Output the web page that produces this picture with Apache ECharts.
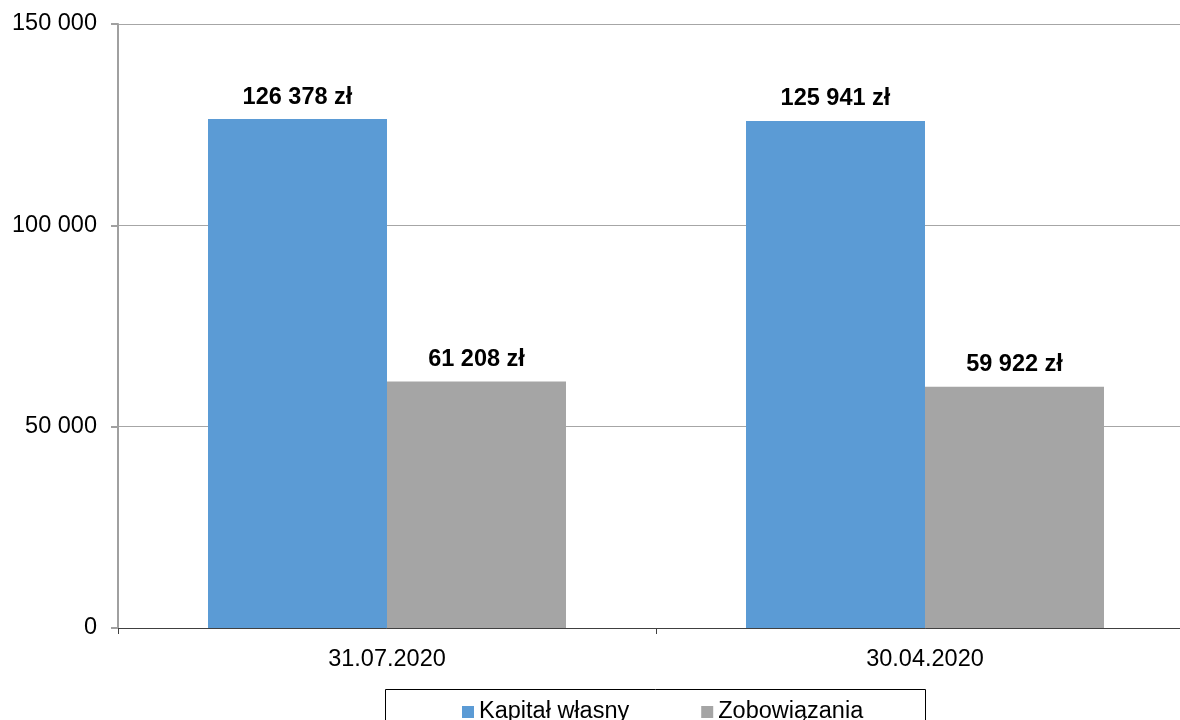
<!DOCTYPE html>
<html>
<head>
<meta charset="utf-8">
<script src="https://cdn.jsdelivr.net/npm/echarts@6/dist/echarts.min.js"></script>
<style>html,body{margin:0;padding:0;background:#fff;overflow:hidden;width:1180px;height:720px;}#c{width:1194px;height:720px;}</style>
</head>
<body>
<div id="c"></div>
<script>
const categories = ['31.07.2020', '30.04.2020'];
const kapital = [126378, 125941];
const zobowiazania = [61208, 59922];
const seriesNames = ['Kapitał własny', 'Zobowiązania'];
const yTicks = [0, 50000, 100000, 150000];

function fmt(v) {
  return String(v).replace(/\B(?=(\d{3})+(?!\d))/g, ' ');
}

const chart = echarts.init(document.getElementById('c'), null, {renderer: 'canvas'});
const font = 'Liberation Sans, Arial, sans-serif';
const fs = 23.5;
const labelCfg = {
  show: true, position: 'top', distance: 10,
  fontFamily: font, fontSize: fs, fontWeight: 'bold', color: '#000',
  formatter: p => fmt(p.value) + ' zł'
};
chart.setOption({
  animation: false,
  textStyle: {fontFamily: font},
  grid: {left: 118, right: 0, top: 24, bottom: 92, containLabel: false},
  xAxis: {
    type: 'category', data: categories,
    axisLine: {lineStyle: {color: '#404040', width: 1}},
    axisTick: {show: true, length: 6, lineStyle: {color: '#404040'}},
    axisLabel: {fontFamily: font, fontSize: fs, color: '#000', margin: 20}
  },
  yAxis: {
    type: 'value', min: yTicks[0], max: yTicks[yTicks.length - 1], interval: yTicks[1] - yTicks[0],
    axisLine: {show: true, lineStyle: {color: '#a0a0a0', width: 2}},
    axisTick: {show: true, length: 7, lineStyle: {color: '#a0a0a0', width: 2}},
    axisLabel: {fontFamily: font, fontSize: fs, color: '#000', margin: 21, padding: [4, 0, 0, 0], formatter: v => fmt(v)},
    splitLine: {lineStyle: {color: '#a6a6a6', width: 1}}
  },
  legend: {
    left: 457, top: 695, itemWidth: 12, itemHeight: 12, itemGap: 72,
    icon: 'rect',
    textStyle: {fontFamily: font, fontSize: fs, color: '#000'},
    data: seriesNames
  },
  graphic: [{
    type: 'rect', left: 385, top: 689, z: -1,
    shape: {width: 540, height: 40},
    style: {fill: '#fff', stroke: '#000', lineWidth: 1}
  }],
  series: [
    {name: seriesNames[0], type: 'bar', data: kapital, barWidth: 179, barGap: '0%',
     itemStyle: {color: '#5B9BD5'}, label: labelCfg},
    {name: seriesNames[1], type: 'bar', data: zobowiazania, barWidth: 179, barGap: '0%',
     itemStyle: {color: '#A5A5A5'}, label: labelCfg}
  ]
});
</script>
</body>
</html>
